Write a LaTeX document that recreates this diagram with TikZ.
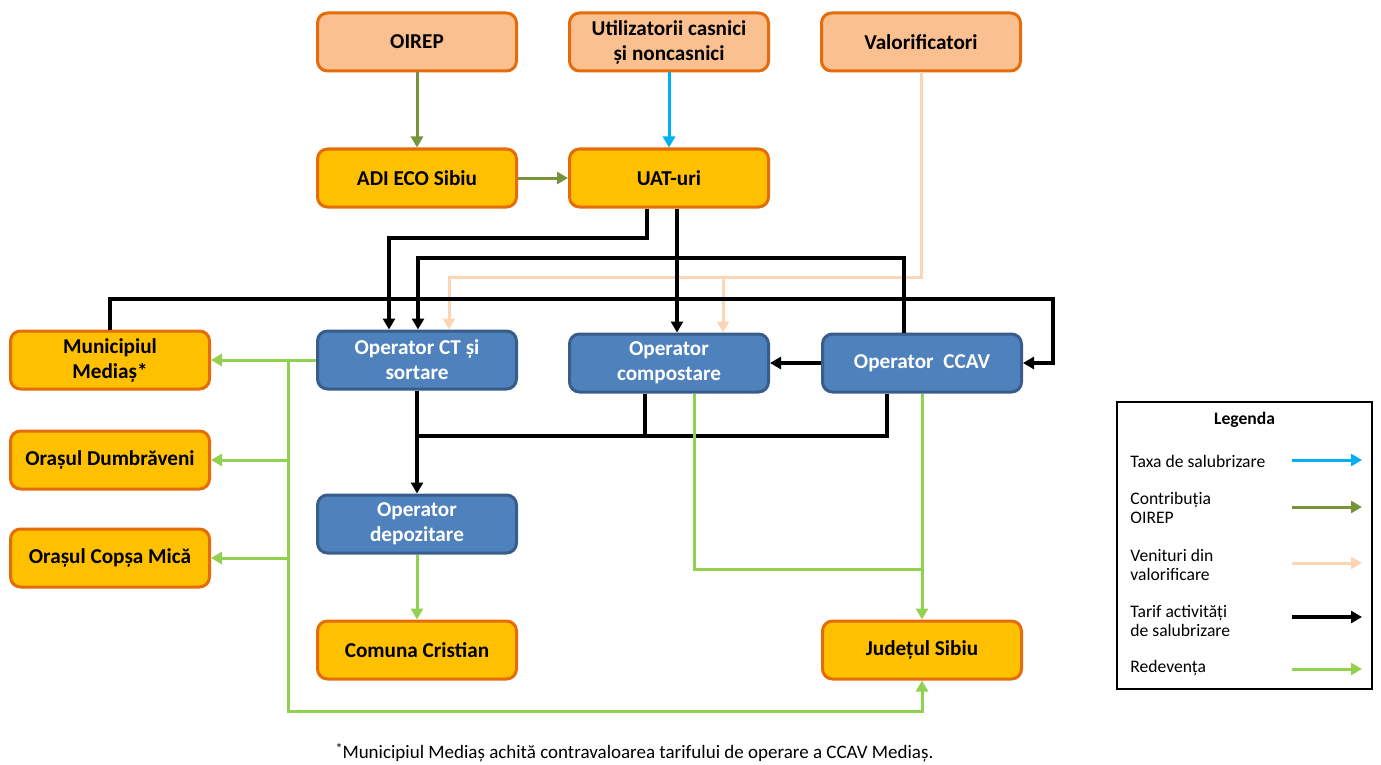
\documentclass[tikz,border=0pt]{standalone}
\usepackage{fontspec}
\setmainfont{Carlito}
\usetikzlibrary{arrows.meta}
\definecolor{peachfill}{HTML}{FAC090}
\definecolor{orangeline}{HTML}{E46C0A}
\definecolor{goldfill}{HTML}{FFC000}
\definecolor{bluefill}{HTML}{4F81BD}
\definecolor{blueline}{HTML}{385D8A}
\definecolor{taxablue}{HTML}{00B0F0}
\definecolor{olivec}{HTML}{77933C}
\definecolor{peachline}{HTML}{FCD5B5}
\definecolor{redgreen}{HTML}{92D050}
\tikzset{
  box/.style={rounded corners=5pt, line width=1.5pt, minimum width=99.5pt, minimum height=29pt,
    align=center, inner sep=0pt, font=\bfseries\fontsize{10.6}{12.5}\selectfont},
  srcbox/.style={box, fill=peachfill, draw=orangeline},
  uatbox/.style={box, fill=goldfill, draw=orangeline},
  opbox/.style={box, fill=bluefill, draw=blueline, text=white},
  tipped/.style={-{Triangle[length=5.5pt,width=6pt]}},
  blkline/.style={line width=1.7pt, draw=black},
  blk/.style={blkline, tipped},
  grnline/.style={line width=1.5pt, draw=redgreen},
  grn/.style={grnline, tipped},
  olv/.style={line width=1.5pt, draw=olivec, tipped},
  bluarrow/.style={line width=1.5pt, draw=taxablue, tipped},
  pch/.style={line width=1.5pt, draw=peachline, tipped},
  legtext/.style={anchor=west, align=left, inner sep=0pt, font=\fontsize{8.8}{9.6}\selectfont},
}
\begin{document}
\begin{tikzpicture}[x=0.5pt,y=-0.5pt]
\useasboundingbox (0,0) rectangle (1381,765);
% nodes
\node[srcbox] (oirep) at (417,42) {OIREP};
\node[srcbox] (util) at (669,42) {Utilizatorii casnici\\și noncasnici};
\node[srcbox] (valor) at (921,42) {Valorificatori};
\node[uatbox] (adi) at (417,178) {ADI ECO Sibiu};
\node[uatbox] (uat) at (669,178) {UAT-uri};
\node[uatbox] (med) at (110,360) {Municipiul\\Mediaș*};
\node[opbox] (ct) at (417,360) {Operator CT și\\sortare};
\node[opbox] (comp) at (669,363) {Operator\\compostare};
\node[opbox] (ccav) at (922,363) {Operator~ CCAV};
\node[uatbox] (dumb) at (110,460) {Orașul Dumbrăveni};
\node[uatbox] (copsa) at (110,558) {Orașul Copșa Mică};
\node[opbox] (depo) at (417,524) {Operator\\depozitare};
\node[uatbox] (crist) at (417,650) {Comuna Cristian};
\node[uatbox] (jud) at (922,650) {Județul Sibiu};
% top connectors
\draw[olv] (oirep) -- (adi);
\draw[olv] (adi) -- (uat);
\draw[bluarrow] (util) -- (uat);
% peach
\coordinate (pv) at (449,277);
\coordinate (pc) at (723,277);
\draw[pch] (valor.south) |- (pv) -- (ct.north -| pv);
\draw[pch] (pc) -- (comp.north -| pc);
% black
\coordinate (k1r) at (647,238);
\coordinate (k1) at (389,238);
\draw[blk] (uat.south -| k1r) -- (k1r) -- (k1) -- (ct.north -| k1);
\coordinate (k2) at (677,300);
\draw[blk] (uat.south -| k2) -- (comp.north -| k2);
\coordinate (k3r) at (904,258);
\coordinate (k3) at (418,258);
\draw[blk] (ccav.north -| k3r) -- (k3r) -- (k3) -- (ct.north -| k3);
\coordinate (k4l) at (110,299);
\coordinate (k4r) at (1053,299);
\draw[blk] (med.north) -- (k4l) -- (k4r) |- (ccav.east);
\draw[blk] (ccav.west) -- (comp.east);
\draw[blk] (ct.south) -- (depo.north);
\coordinate (k5l) at (417,436);
\coordinate (k5m) at (645,436);
\coordinate (k5r) at (887,436);
\draw[blkline] (comp.south -| k5m) -- (k5m);
\draw[blkline] (ccav.south -| k5r) -- (k5r) -- (k5l);
% green
\coordinate (g1) at (288,360);
\coordinate (g2) at (288,711);
\draw[grn] (ct.west) -- (med.east);
\draw[grn] (g1) -- (g2) -- (g2 -| jud.south) -- (jud.south);
\draw[grn] (g1 |- dumb.east) -- (dumb.east);
\draw[grn] (g1 |- copsa.east) -- (copsa.east);
\draw[grn] (depo.south) -- (crist.north);
\coordinate (g3) at (694,569);
\draw[grnline] (comp.south -| g3) -- (g3) -- (g3 -| jud.north);
\draw[grn] (ccav.south -| jud.north) -- (jud.north);
% legend
\node[draw=black, line width=0.8pt, minimum width=127.5pt, minimum height=143.5pt, inner sep=0pt] (leg) at (1244.5,545.5) {};
\node[font=\bfseries\fontsize{8.8}{9.6}\selectfont] (legt) at (1244.5,420) {Legenda};
\node[legtext] (l1) at (1130,461) {Taxa de salubrizare};
\node[legtext] (l2) at (1130,508) {Contribuția\\OIREP};
\node[legtext] (l3) at (1130,565) {Venituri din\\valorificare};
\node[legtext] (l4) at (1130,621) {Tarif activități\\de salubrizare};
\node[legtext] (l5) at (1130,668) {Redevența};
\coordinate (a1s) at (1292,460); \coordinate (a1e) at (1362,460);
\coordinate (a2s) at (1292,507); \coordinate (a2e) at (1362,507);
\coordinate (a3s) at (1292,563); \coordinate (a3e) at (1362,563);
\coordinate (a4s) at (1292,617); \coordinate (a4e) at (1362,617);
\coordinate (a5s) at (1292,669); \coordinate (a5e) at (1362,669);
\draw[bluarrow] (a1s) -- (a1e);
\draw[olv] (a2s) -- (a2e);
\draw[pch] (a3s) -- (a3e);
\draw[blk] (a4s) -- (a4e);
\draw[grn] (a5s) -- (a5e);
% footnote
\node[font=\fontsize{9.5}{11}\selectfont] (fn) at (634.5,753) {\raisebox{0.5ex}{\fontsize{7}{7}\selectfont *}Municipiul Mediaș achită contravaloarea tarifului de operare a CCAV Mediaș.};
\end{tikzpicture}
\end{document}
